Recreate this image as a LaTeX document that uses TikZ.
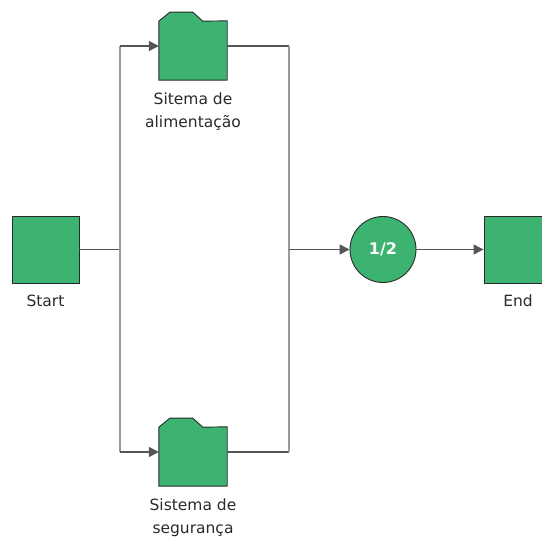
\documentclass[tikz,border=0pt]{standalone}
\usepackage{fontspec}
\setmainfont{DejaVu Sans}
\usetikzlibrary{arrows.meta}
\definecolor{boxgreen}{HTML}{3CB371}
\definecolor{edgedark}{HTML}{2A2A2A}
\definecolor{wiredark}{HTML}{555555}
\definecolor{wirelight}{HTML}{9A9A9A}
\definecolor{labeltext}{HTML}{2A2A2A}
\tikzset{
  stepbox/.style={draw=edgedark, fill=boxgreen, line width=0.9pt, minimum width=67pt, minimum height=67pt, inner sep=0pt},
  folderslot/.style={minimum width=68pt, minimum height=68pt, inner sep=0pt},
  foldershape/.style={draw=edgedark, fill=boxgreen, line width=0.9pt, line join=round},
  gatecircle/.style={circle, draw=edgedark, fill=boxgreen, line width=0.9pt, minimum size=66pt, inner sep=0pt, text=white, font=\bfseries\fontsize{16}{18}\selectfont},
  caption/.style={text=labeltext, align=center, font=\fontsize{15.5}{23}\selectfont, inner sep=0pt},
  hwire/.style={draw=wiredark, line width=1.2pt},
  vwire/.style={draw=wirelight, line width=1.2pt},
  arrowed/.style={-{Triangle[length=10pt,width=10pt]}, wiredark}
}
\begin{document}
\begin{tikzpicture}[x=1pt,y=-1pt]
  \useasboundingbox (0,0) rectangle (542,537);

  % boxes
  \node[stepbox] (start) at (45.5,249.5) {};
  \node[stepbox] (end) at (517.5,249.5) {};
  \node[folderslot] (sup) at (193,46) {};
  \node[folderslot] (sinf) at (193,452) {};
  \node[gatecircle] (gate) at (383,249.5) {1/2};

  % folder outlines drawn inside their slots
  \foreach \n in {sup,sinf}
    \draw[foldershape] (\n.south west) -- ++(0,-59) -- ++(11,-9) -- ++(23,0) -- ++(10,9)
      -- ([yshift=-9pt]\n.north east) -- (\n.south east) -- cycle;

  % captions
  \node[caption, anchor=north] (lstart) at (45.5,295) {Start};
  \node[caption, anchor=north] (lend) at (518,295) {End};
  \node[caption, anchor=north] (lsup) at (193,93) {Sitema de\\alimentação};
  \node[caption, anchor=north] (lsinf) at (193,499) {Sistema de\\segurança};

  % branching points
  \coordinate (split) at (120,249.5);
  \coordinate (splittop) at (120,46);
  \coordinate (splitbot) at (120,452);
  \coordinate (jointop) at (289,46);
  \coordinate (joinbot) at (289,452);
  \coordinate (join) at (289,249.5);

  % wiring
  \draw[hwire] (start.east) -- (split);
  \draw[vwire] (splittop) -- (splitbot);
  \draw[hwire, arrowed] (splittop) -- (sup.west);
  \draw[hwire, arrowed] (splitbot) -- (sinf.west);
  \draw[hwire] (sup.east) -- (jointop);
  \draw[hwire] (sinf.east) -- (joinbot);
  \draw[vwire] (jointop) -- (joinbot);
  \draw[hwire, arrowed] (join) -- (gate.west);
  \draw[hwire, arrowed] (gate.east) -- (end.west);
\end{tikzpicture}
\end{document}
